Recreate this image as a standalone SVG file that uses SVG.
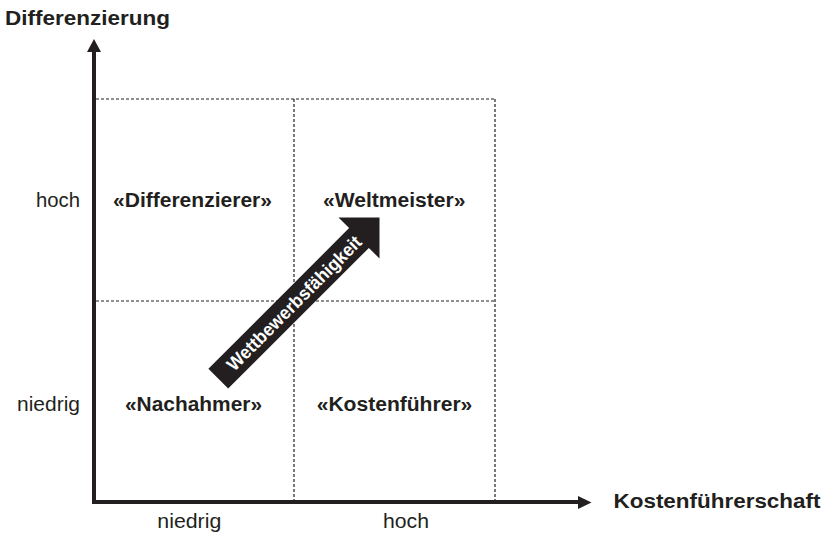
<svg xmlns="http://www.w3.org/2000/svg" width="827" height="535" viewBox="0 0 827 535">
<style>
.t{font-family:"Liberation Sans",Arial,Helvetica,sans-serif;fill:#231f20;font-size:20px}
.b{font-weight:bold}
.grid{stroke:#231f20;stroke-width:1.2;stroke-dasharray:3,2;fill:none}
.axis{stroke:#231f20;stroke-width:4;fill:none}
.head{fill:#231f20}
</style>
<rect width="827" height="535" fill="#ffffff"/>
<g id="grid">
<line class="grid" x1="96" y1="99" x2="495" y2="99"/>
<line class="grid" x1="495" y1="99" x2="495" y2="500"/>
<line class="grid" x1="96" y1="301" x2="495" y2="301"/>
<line class="grid" x1="294" y1="99" x2="294" y2="500"/>
</g>
<g id="connectors">
<line class="axis" x1="94" y1="504" x2="94" y2="51"/>
<polygon class="head" points="94,39 87,52 101,52"/>
<line class="axis" x1="92" y1="502" x2="579" y2="502"/>
<polygon class="head" points="591.5,502.5 578,496 578,509"/>
</g>
<g id="axis-y-title"><text class="t b" x="5" y="25" textLength="165" lengthAdjust="spacingAndGlyphs">Differenzierung</text></g>
<g id="axis-x-title"><text class="t b" x="613.5" y="508" textLength="207" lengthAdjust="spacingAndGlyphs">Kostenführerschaft</text></g>
<g id="tick-y-hoch"><text class="t" x="36" y="206.5" textLength="44" lengthAdjust="spacingAndGlyphs">hoch</text></g>
<g id="tick-y-niedrig"><text class="t" x="17" y="411" textLength="63" lengthAdjust="spacingAndGlyphs">niedrig</text></g>
<g id="tick-x-niedrig"><text class="t" x="157.3" y="528" textLength="64" lengthAdjust="spacingAndGlyphs">niedrig</text></g>
<g id="tick-x-hoch"><text class="t" x="383" y="528" textLength="46" lengthAdjust="spacingAndGlyphs">hoch</text></g>
<g id="q-differenzierer"><text class="t b" x="113" y="206.5" textLength="159" lengthAdjust="spacingAndGlyphs">«Differenzierer»</text></g>
<g id="q-weltmeister"><text class="t b" x="323" y="206.5" textLength="142.5" lengthAdjust="spacingAndGlyphs">«Weltmeister»</text></g>
<g id="q-nachahmer"><text class="t b" x="125" y="411" textLength="137" lengthAdjust="spacingAndGlyphs">«Nachahmer»</text></g>
<g id="q-kostenfuehrer"><text class="t b" x="316.7" y="411" textLength="155.6" lengthAdjust="spacingAndGlyphs">«Kostenführer»</text></g>
<g id="wettbewerb-arrow" transform="translate(379.5,217.5) rotate(-45)">
<polygon fill="#231f20" points="0,0 -29,-29 -29,-14 -228,-14 -228,14 -29,14 -29,29"/>
<text x="-121" y="6.6" text-anchor="middle" style="font-family:'Liberation Sans',Arial,sans-serif;font-weight:bold;font-size:18.5px;fill:#ffffff" textLength="182" lengthAdjust="spacingAndGlyphs">Wettbewerbsfähigkeit</text>
</g>
</svg>
